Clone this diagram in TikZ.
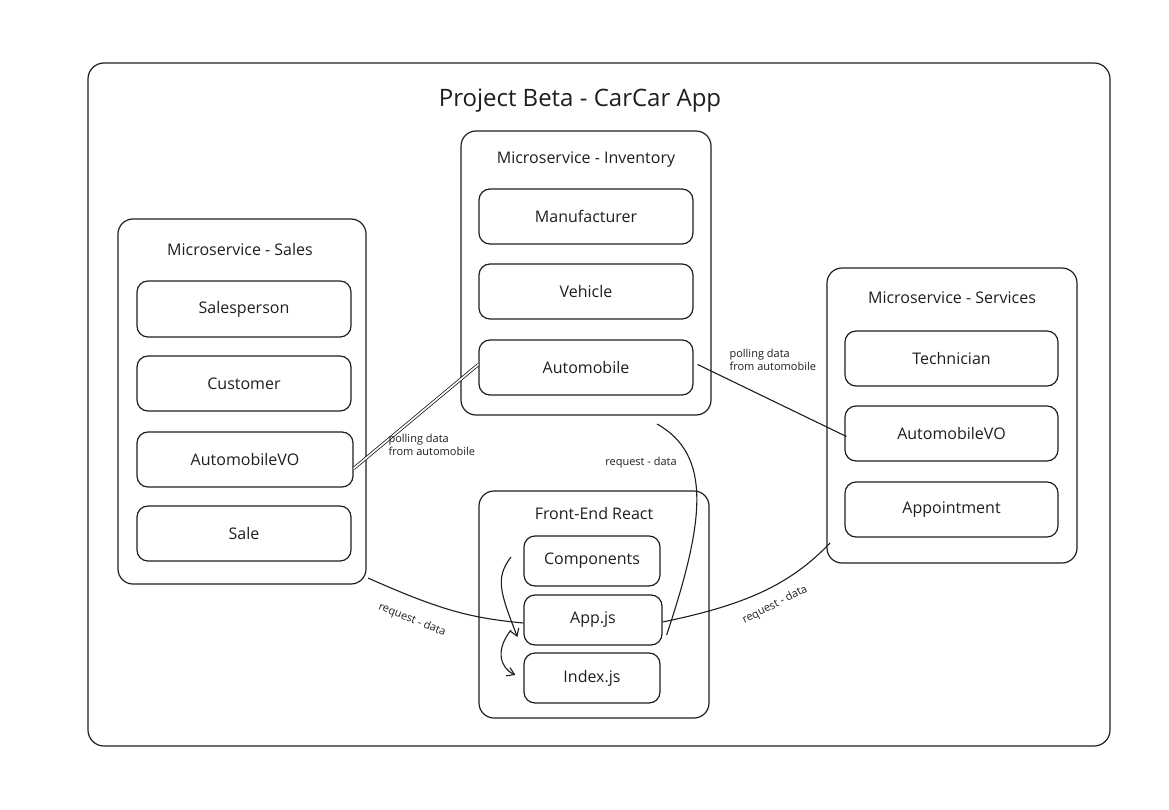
\documentclass[tikz,border=0pt]{standalone}
\usepackage{fontspec}
\setmainfont{Open Sans}
\usetikzlibrary{arrows.meta}
\definecolor{ink}{HTML}{1E1E1E}
\begin{document}
\begin{tikzpicture}[x=1pt,y=-1pt,
  frame/.style={draw=ink,line width=1.2pt,rounded corners=16pt},
  group/.style={draw=ink,line width=1.2pt,rounded corners=15pt,inner sep=0pt},
  item/.style={draw=ink,line width=1.2pt,rounded corners=11pt,inner sep=0pt,font=\fontsize{16}{18}\selectfont,text=ink},
  gtitle/.style={font=\fontsize{16}{19}\selectfont,text=ink},
  lab/.style={font=\fontsize{11}{12.5}\selectfont,text=ink,align=left},
  conn/.style={draw=ink,line width=1.1pt},
  flow/.style={draw=ink,line width=1.1pt,-{Straight Barb[length=7pt,width=9pt]}}
]
\useasboundingbox (0,0) rectangle (1169,810);
% outer frame
\node[frame,minimum width=1022pt,minimum height=683pt] (outer) at (599,404.5) {};
\node[font=\fontsize{24}{28}\selectfont,text=ink] (title) at (580,101) {Project Beta - CarCar App};

% Inventory
\node[group,minimum width=250pt,minimum height=284pt] (inv) at (586,273) {};
\node[gtitle] (invt) at (586,160) {Microservice - Inventory};
\node[item,minimum width=214pt,minimum height=55pt] (manu) at (586,216.5) {Manufacturer};
\node[item,minimum width=214pt,minimum height=55pt] (veh) at (586,291.5) {Vehicle};
\node[item,minimum width=214pt,minimum height=55pt] (auto) at (586,367.5) {Automobile};

% Sales
\node[group,minimum width=248pt,minimum height=365pt] (sales) at (242,401.5) {};
\node[gtitle] (salest) at (240,250) {Microservice - Sales};
\node[item,minimum width=214pt,minimum height=56pt] (salesp) at (244,309) {Salesperson};
\node[item,minimum width=214pt,minimum height=55pt] (cust) at (244,383.5) {Customer};
\node[item,minimum width=216pt,minimum height=55pt] (savo) at (245,459.5) {AutomobileVO};
\node[item,minimum width=214pt,minimum height=55pt] (sale) at (244,533.5) {Sale};

% Services
\node[group,minimum width=250pt,minimum height=295pt] (svc) at (952,415.5) {};
\node[gtitle] (svct) at (952,298) {Microservice - Services};
\node[item,minimum width=213pt,minimum height=55pt] (tech) at (951.5,358.5) {Technician};
\node[item,minimum width=213pt,minimum height=55pt] (vavo) at (951.5,433.5) {AutomobileVO};
\node[item,minimum width=213pt,minimum height=55pt] (appt) at (951.5,509.5) {Appointment};

% Front-end
\node[group,minimum width=230pt,minimum height=227pt] (fe) at (594,604.5) {};
\node[gtitle] (fet) at (594,513) {Front-End React};
\node[item,minimum width=136pt,minimum height=50pt] (comp) at (592,561) {Components};
\node[item,minimum width=138pt,minimum height=50pt] (app) at (593,620) {App.js};
\node[item,minimum width=136pt,minimum height=50pt] (idx) at (592,678) {Index.js};

% connectors
\draw[conn,double=white,double distance=1.6pt,line width=0.8pt] ([yshift=-9pt]savo.east) -- ([yshift=3pt]auto.west);
\node[lab,anchor=north west] (l1) at (385,431) {polling data\\from automobile};

\draw[conn] ([xshift=4pt,yshift=3pt]auto.east) -- ([xshift=2pt,yshift=-3pt]vavo.west);
\node[lab,anchor=north west] (l2) at (726,346) {polling data\\from automobile};

\coordinate (sc) at (368,578);
\draw[conn] (sc) .. controls (440,610) and (470,618) .. ([yshift=-3pt]app.west);
\node[lab,rotate=-22] (l3) at (412,620) {request - data};

\coordinate (ic) at (657,424);
\draw[conn] (ic) .. controls (712,455) and (705,520) .. ([xshift=4pt,yshift=-15pt]app.east);
\node[lab] (l4) at (641,463) {request - data};

\coordinate (vc) at (830,543);
\draw[conn] ([yshift=-2pt]app.east) .. controls (745,605) and (790,585) .. (vc);
\node[lab,rotate=27] (l5) at (775,605) {request - data};

% internal flows
\coordinate (f1) at (511,557);
\draw[flow] (f1) .. controls (495,578) and (500,592) .. ([xshift=-6pt,yshift=-17pt]app.west);
\coordinate (f2) at (511,630);
\draw[flow] (f2) .. controls (495,650) and (500,668) .. ([xshift=-8pt,yshift=3pt]idx.west);
\end{tikzpicture}
\end{document}
